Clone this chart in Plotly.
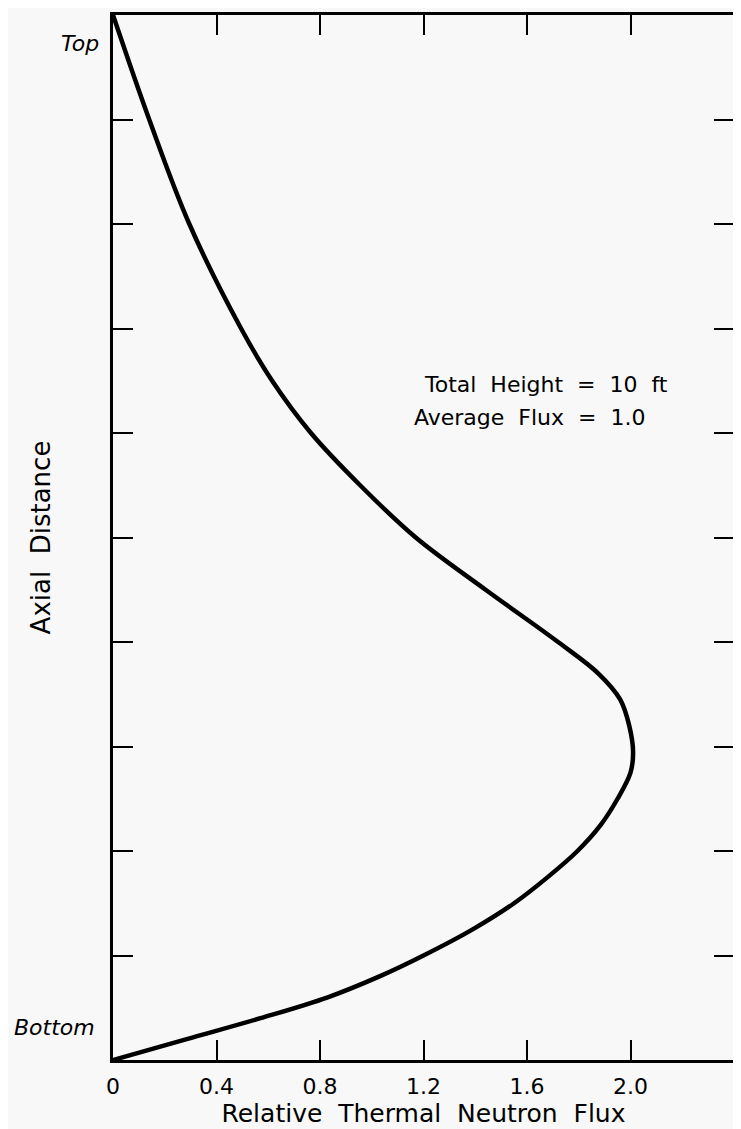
import plotly.graph_objects as go

# Relative thermal neutron flux vs axial distance (0 = bottom, 10 = top)
flux = [0.0, 0.14, 0.295, 0.495, 0.615, 0.765, 0.955, 1.17, 1.44, 1.72, 1.875, 1.96,
        1.995, 2.01, 2.0, 1.95, 1.885, 1.795, 1.68, 1.55, 1.39, 1.20, 1.03,
        0.83, 0.57, 0.285, 0.0]
axial = [10.0, 9.0, 8.0, 7.0, 6.5, 6.0, 5.5, 5.0, 4.5, 4.0, 3.7, 3.45,
         3.2, 2.95, 2.75, 2.5, 2.25, 2.0, 1.75, 1.5, 1.25, 1.0, 0.8,
         0.6, 0.4, 0.2, 0.0]

x_tickvals = [0, 0.4, 0.8, 1.2, 1.6, 2.0]
x_ticktext = ["0", "0.4", "0.8", "1.2", "1.6", "2.0"]
y_tickvals = [0, 1, 2, 3, 4, 5, 6, 7, 8, 9, 10]

FONT = "DejaVu Sans"

fig = go.Figure()
fig.add_trace(go.Scatter(
    x=flux, y=axial, mode="lines",
    line=dict(color="black", width=4.5, shape="spline", smoothing=1.0),
    hoverinfo="skip", showlegend=False,
))

fig.update_layout(
    width=733, height=1121,
    margin=dict(l=105, r=5, t=4, b=69),
    paper_bgcolor="#f8f8f8", plot_bgcolor="#f8f8f8",
    font=dict(family=FONT, color="black"),
    showlegend=False,
)

fig.update_xaxes(
    range=[0, 2.4], tickvals=x_tickvals, ticktext=x_ticktext,
    ticks="inside", ticklen=20, tickwidth=2, tickcolor="black",
    showline=True, linewidth=3, linecolor="black", mirror="ticks",
    showgrid=False, zeroline=False,
    tickfont=dict(size=22, family=FONT), ticklabelstandoff=5,
    title=dict(text="Relative  Thermal  Neutron  Flux", font=dict(size=25, family=FONT), standoff=0),
)
fig.update_yaxes(
    range=[0, 10], tickvals=y_tickvals, showticklabels=False,
    ticks="inside", ticklen=20, tickwidth=2, tickcolor="black",
    showline=True, linewidth=3, linecolor="black", mirror="ticks",
    showgrid=False, zeroline=False,
    title=dict(text="Axial  Distance", font=dict(size=26, family=FONT), standoff=52),
)

fig.add_annotation(x=0, y=10, xref="x", yref="y", text="<i>Top</i>", showarrow=False,
                   xanchor="right", yanchor="middle", xshift=-12, yshift=-28,
                   font=dict(size=22, family=FONT))
fig.add_annotation(x=0, y=0, xref="x", yref="y", text="<i>Bottom</i>", showarrow=False,
                   xanchor="right", yanchor="middle", xshift=-16, yshift=33,
                   font=dict(size=22, family=FONT))
fig.add_annotation(x=1.193, y=6.46, xref="x", yref="y", text="Total  Height  =  10  ft",
                   showarrow=False, xanchor="left", yanchor="middle",
                   font=dict(size=22, family=FONT))
fig.add_annotation(x=1.155, y=6.15, xref="x", yref="y", text="Average  Flux  =  1.0",
                   showarrow=False, xanchor="left", yanchor="middle",
                   font=dict(size=22, family=FONT))

fig.write_html("out.html")
